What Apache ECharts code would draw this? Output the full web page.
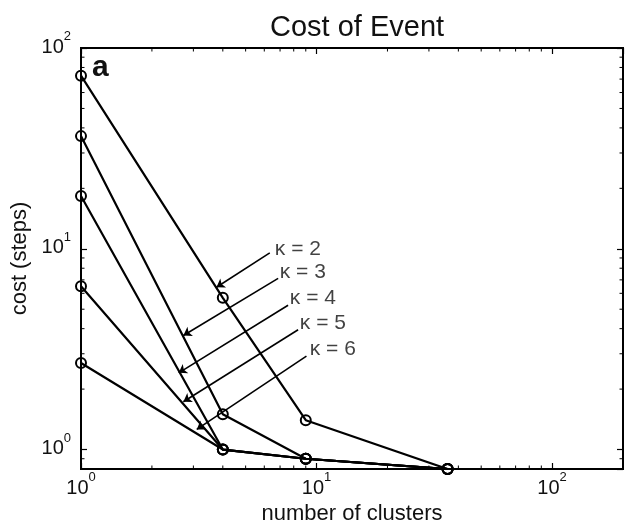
<!DOCTYPE html>
<html>
<head>
<meta charset="utf-8">
<script src="https://cdn.jsdelivr.net/npm/echarts@6/dist/echarts.min.js"></script>
<style>
html,body{margin:0;padding:0;background:#fff;}
#chart{width:630px;height:530px;}
</style>
</head>
<body>
<div id="chart"></div>
<script>
// ---- data ----
const clusters = [1, 4, 9, 36];
const costK2 = [72.8, 5.7, 1.4, 0.8];
const costK3 = [36.4, 1.5, 0.9, 0.8];
const costK4 = [18.3, 1.0, 0.9, 0.8];
const costK5 = [6.5, 1.0, 0.9, 0.8];
const costK6 = [2.7, 1.0, 0.9, 0.8];
const seriesNames = ['κ = 2', 'κ = 3', 'κ = 4', 'κ = 5', 'κ = 6'];

// annotation labels and arrows (data coordinates)
const labelAnchorX = [6.65, 6.98, 7.70, 8.49, 9.36];
const labelAnchorY = [9.9, 7.6, 5.7, 4.26, 3.15];
const arrowTailX = [6.33, 6.87, 7.57, 8.35, 9.06];
const arrowTailY = [9.54, 7.12, 5.23, 3.95, 2.92];
const arrowTipX = [3.76, 2.72, 2.60, 2.72, 3.10];
const arrowTipY = [6.43, 3.70, 2.41, 1.73, 1.26];

// axes
const xMin = 1, xMax = 200;
const yMin = 0.8, yMax = 100;
const xMinorTicks = [2, 3, 4, 5, 6, 7, 8, 9, 20, 30, 40, 50, 60, 70, 80, 90];
const yMinorTicks = [0.9, 2, 3, 4, 5, 6, 7, 8, 9, 20, 30, 40, 50, 60, 70, 80, 90];

const titleText = 'Cost of Event';
const xName = 'number of clusters';
const yName = 'cost (steps)';
const panelLetter = 'a';

// ---- chart ----
const FONT = '"Liberation Sans", Arial, Helvetica, sans-serif';
const chart = echarts.init(document.getElementById('chart'), null, {renderer: 'canvas'});

function powLabel(v) {
  const e = Math.log10(v);
  if (Math.abs(e - Math.round(e)) > 1e-6) return '';
  return '{b|10}{s|' + Math.round(e) + '}';
}
const labelRich = {
  b: {fontSize: 20, lineHeight: 20, fontFamily: FONT, color: '#111', verticalAlign: 'bottom'},
  s: {fontSize: 13, fontFamily: FONT, color: '#111', verticalAlign: 'top', padding: [0, 0, 14, 0]}
};

function lineSeries(name, vals) {
  return {
    name: name,
    type: 'line',
    data: clusters.map((c, i) => [c, vals[i]]),
    symbol: 'circle',
    symbolSize: 10,
    lineStyle: {color: '#000', width: 2.2},
    itemStyle: {color: 'rgba(0,0,0,0)', borderColor: '#000', borderWidth: 2},
    emphasis: {disabled: true},
    silent: true,
    z: 3
  };
}

const minorData = xMinorTicks.map(v => [v, 1, 0]).concat(yMinorTicks.map(v => [1, v, 1]));

const option = {
  animation: false,
  backgroundColor: '#fff',
  title: {
    text: titleText,
    left: 265,
    top: 8,
    textStyle: {fontFamily: FONT, fontSize: 29, fontWeight: 'normal', color: '#111'}
  },
  grid: {left: 81, right: 7, top: 48, bottom: 53, show: true, borderColor: '#000', borderWidth: 2, backgroundColor: 'rgba(0,0,0,0)'},
  xAxis: [{
    type: 'log', logBase: 10, min: xMin, max: xMax,
    name: xName, nameLocation: 'middle', nameGap: 34,
    nameTextStyle: {fontFamily: FONT, fontSize: 22, color: '#111'},
    axisLine: {show: false},
    axisTick: {show: true, inside: true, length: 6, lineStyle: {color: '#000', width: 1.2}},
    axisLabel: {margin: 2, formatter: powLabel, rich: labelRich, showMinLabel: true, showMaxLabel: false},
    splitLine: {show: false}
  }, {
    type: 'log', logBase: 10, min: xMin, max: xMax, position: 'top',
    axisLine: {show: false},
    axisTick: {show: true, inside: true, length: 6, lineStyle: {color: '#000', width: 1.2}},
    axisLabel: {show: false}, splitLine: {show: false}
  }],
  yAxis: [{
    type: 'log', logBase: 10, min: yMin, max: yMax,
    name: yName, nameLocation: 'middle', nameGap: 40, nameRotate: 90,
    nameTextStyle: {fontFamily: FONT, fontSize: 22, color: '#111'},
    axisLine: {show: false},
    axisTick: {show: true, inside: true, length: 6, lineStyle: {color: '#000', width: 1.2}},
    axisLabel: {margin: 10, padding: [0, 0, 9, 0], formatter: powLabel, rich: labelRich, showMinLabel: false},
    splitLine: {show: false}
  }, {
    type: 'log', logBase: 10, min: yMin, max: yMax, position: 'right',
    axisLine: {show: false},
    axisTick: {show: true, inside: true, length: 6, lineStyle: {color: '#000', width: 1.2}},
    axisLabel: {show: false}, splitLine: {show: false}
  }],
  graphic: [{
    type: 'text', left: 92, top: 53,
    style: {text: panelLetter, font: 'bold 30px ' + FONT, fill: '#111'}
  }],
  series: [
    lineSeries(seriesNames[0], costK2),
    lineSeries(seriesNames[1], costK3),
    lineSeries(seriesNames[2], costK4),
    lineSeries(seriesNames[3], costK5),
    lineSeries(seriesNames[4], costK6),
    {
      type: 'custom',
      silent: true,
      data: minorData,
      renderItem: function (params, api) {
        const cs = params.coordSys;
        const kind = api.value(2);
        const len = 3.5;
        const st = {stroke: '#000', lineWidth: 1};
        if (kind === 0) {
          const p = api.coord([api.value(0), 1]);
          return {type: 'group', children: [
            {type: 'line', shape: {x1: p[0], y1: cs.y + cs.height, x2: p[0], y2: cs.y + cs.height - len}, style: st},
            {type: 'line', shape: {x1: p[0], y1: cs.y, x2: p[0], y2: cs.y + len}, style: st}
          ]};
        } else {
          const p = api.coord([1, api.value(1)]);
          return {type: 'group', children: [
            {type: 'line', shape: {x1: cs.x, y1: p[1], x2: cs.x + len, y2: p[1]}, style: st},
            {type: 'line', shape: {x1: cs.x + cs.width, y1: p[1], x2: cs.x + cs.width - len, y2: p[1]}, style: st}
          ]};
        }
      },
      z: 2
    },
    {
      type: 'scatter',
      silent: true,
      symbolSize: 0,
      data: seriesNames.map((n, i) => ({name: n, value: [labelAnchorX[i], labelAnchorY[i]]})),
      label: {
        show: true, position: 'right', distance: 0,
        formatter: '{b}',
        fontFamily: FONT, fontSize: 21, color: '#111'
      },
      markLine: {
        silent: true,
        symbol: ['none', 'arrow'],
        symbolSize: 8,
        label: {show: false},
        lineStyle: {color: '#000', width: 1.6, type: 'solid'},
        emphasis: {disabled: true},
        data: seriesNames.map((n, i) => [
          {coord: [arrowTailX[i], arrowTailY[i]]},
          {coord: [arrowTipX[i], arrowTipY[i]]}
        ])
      },
      z: 4
    }
  ]
};
chart.setOption(option);
</script>
</body>
</html>
